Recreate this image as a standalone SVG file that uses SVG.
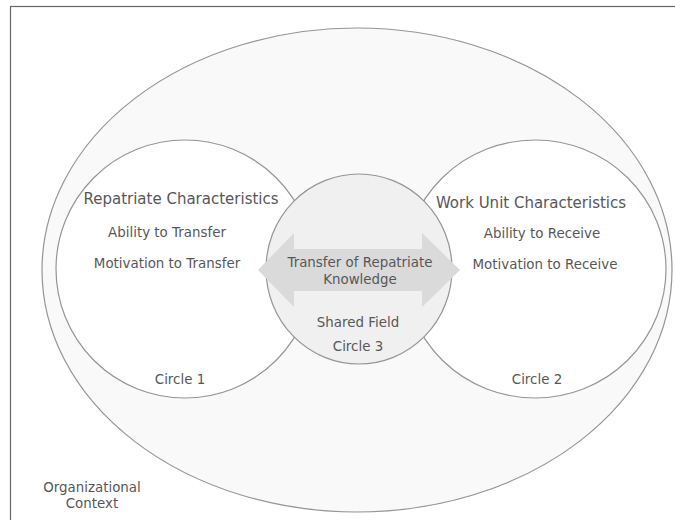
<svg xmlns="http://www.w3.org/2000/svg" width="675" height="520" viewBox="0 0 675 520">
<style>
text{font-family:"DejaVu Sans","Liberation Sans",sans-serif;fill:#575757;text-anchor:middle}
.t{font-size:15px}
.s{font-size:13.4px}
.ring{stroke:#959595;stroke-width:1.2}
</style>
<rect x="0" y="0" width="675" height="520" fill="#fff"/>
<rect x="10.5" y="6.5" width="700" height="530" fill="none" stroke="#666" stroke-width="1.2"/>
<g id="context">
<ellipse class="ring" cx="357" cy="270" rx="315" ry="242" fill="#f9f9f9"/>
<text class="s" x="92" y="492">Organizational</text>
<text class="s" x="92" y="508">Context</text>
</g>
<g id="circle1">
<circle class="ring" cx="185" cy="269" r="129" fill="#fff"/>
<text class="t" x="181" y="204">Repatriate Characteristics</text>
<text class="s" x="167" y="237">Ability to Transfer</text>
<text class="s" x="167" y="268">Motivation to Transfer</text>
<text class="s" x="180" y="384">Circle 1</text>
</g>
<g id="circle2">
<ellipse class="ring" cx="535" cy="269" rx="131" ry="129" fill="#fff"/>
<text class="t" x="531" y="208">Work Unit Characteristics</text>
<text class="s" x="542" y="238">Ability to Receive</text>
<text class="s" x="545" y="269">Motivation to Receive</text>
<text class="s" x="537" y="384">Circle 2</text>
</g>
<g id="circle3">
<ellipse class="ring" cx="359" cy="269" rx="93" ry="95" fill="#f0f0f0"/>
<text class="s" x="358" y="327">Shared Field</text>
<text class="s" x="358" y="351">Circle 3</text>
</g>
<g id="connectors">
<polygon points="258,270 294,233 294,249 422,249 422,233 460,270 422,307 422,291 294,291 294,307" fill="#dadada"/>
<text class="s" x="360" y="267">Transfer of Repatriate</text>
<text class="s" x="360" y="284">Knowledge</text>
</g>
</svg>
